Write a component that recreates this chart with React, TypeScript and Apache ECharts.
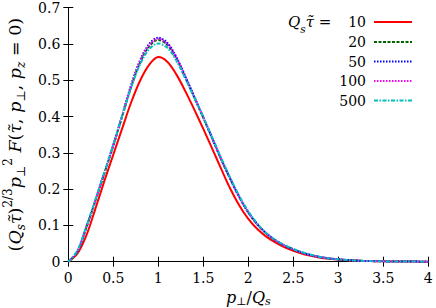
import React, { useEffect, useRef } from "react";
import * as echarts from "echarts";

// p_perp / Q_s grid
const pValues = [
  0, 0.1, 0.2, 0.3, 0.4, 0.5, 0.6, 0.7, 0.8, 0.9, 1.0, 1.1, 1.2, 1.3, 1.4, 1.5, 1.6, 1.7, 1.8, 1.9, 2.0,
  2.1, 2.2, 2.3, 2.4, 2.5, 2.6, 2.7, 2.8, 2.9, 3.0, 3.1, 3.2, 3.3, 3.4, 3.5, 3.6, 3.7, 3.8, 3.9, 4.0,
];

const tau10 = [
  0, 0.022, 0.072, 0.145, 0.222, 0.295, 0.368, 0.44, 0.5, 0.543, 0.564, 0.551, 0.516, 0.47, 0.419, 0.366,
  0.311, 0.255, 0.201, 0.155, 0.118, 0.09, 0.069, 0.053, 0.04, 0.03, 0.022, 0.016, 0.011, 0.008, 0.006,
  0.004, 0.003, 0.002, 0.0015, 0.001, 0.0007, 0.0005, 0.0003, 0.0002, 0.0001,
];
const tau20 = [
  0, 0.027, 0.094, 0.167, 0.243, 0.319, 0.401, 0.483, 0.55, 0.594, 0.611, 0.597, 0.559, 0.507, 0.452, 0.396,
  0.339, 0.281, 0.228, 0.178, 0.136, 0.103, 0.078, 0.059, 0.045, 0.034, 0.025, 0.018, 0.013, 0.009, 0.0065,
  0.0045, 0.003, 0.002, 0.0015, 0.001, 0.0007, 0.0005, 0.0003, 0.0002, 0.0001,
];
const tau50 = [
  0, 0.028, 0.095, 0.168, 0.245, 0.322, 0.405, 0.488, 0.556, 0.6, 0.617, 0.603, 0.564, 0.511, 0.455, 0.398,
  0.34, 0.282, 0.228, 0.178, 0.136, 0.103, 0.078, 0.059, 0.045, 0.034, 0.025, 0.018, 0.013, 0.009, 0.0065,
  0.0045, 0.003, 0.002, 0.0015, 0.001, 0.0007, 0.0005, 0.0003, 0.0002, 0.0001,
];
const tau100 = [
  0, 0.028, 0.095, 0.168, 0.245, 0.321, 0.404, 0.486, 0.554, 0.597, 0.614, 0.6, 0.562, 0.51, 0.454, 0.398,
  0.34, 0.282, 0.228, 0.178, 0.136, 0.103, 0.078, 0.059, 0.045, 0.034, 0.025, 0.018, 0.013, 0.009, 0.0065,
  0.0045, 0.003, 0.002, 0.0015, 0.001, 0.0007, 0.0005, 0.0003, 0.0002, 0.0001,
];
const tau500 = [
  0, 0.03, 0.097, 0.17, 0.246, 0.322, 0.403, 0.481, 0.545, 0.586, 0.601, 0.589, 0.554, 0.505, 0.452, 0.398,
  0.342, 0.285, 0.231, 0.181, 0.139, 0.105, 0.079, 0.06, 0.046, 0.035, 0.026, 0.019, 0.013, 0.009, 0.0065,
  0.0045, 0.003, 0.002, 0.0015, 0.001, 0.0007, 0.0005, 0.0003, 0.0002, 0.0001,
];

const seriesNames = ["10", "20", "50", "100", "500"];
const seriesData = [tau10, tau20, tau50, tau100, tau500];
const seriesColors = ["#ff0000", "#006400", "#0000ff", "#ff00ff", "#00c0c0"];
const seriesDash: (string | number[])[] = ["solid", [3, 1.5], [1.5, 1.5], [1.5, 1.5], [4, 1.5, 1.5, 1.5]];

const xTicks = { min: 0, max: 4, interval: 0.5 };
const yTicks = { min: 0, max: 0.7, interval: 0.1 };

const FONT = "DejaVu Serif";

function makeRich(size: number, sub: number, lh: number) {
  return {
    r: { fontFamily: FONT, fontSize: size, color: "#000", lineHeight: lh },
    i: { fontFamily: FONT, fontSize: size, fontStyle: "italic", color: "#000", lineHeight: lh },
    sb: { fontFamily: FONT, fontSize: sub, fontStyle: "italic", color: "#000", verticalAlign: "bottom", lineHeight: sub },
    sbr: { fontFamily: FONT, fontSize: sub, color: "#000", verticalAlign: "bottom", lineHeight: sub },
    sp: { fontFamily: FONT, fontSize: sub, color: "#000", verticalAlign: "top", lineHeight: sub },
  };
}

export default function App() {
  const ref = useRef<HTMLDivElement>(null);
  useEffect(() => {
    if (!ref.current) return;
    const chart = echarts.init(ref.current, undefined, { renderer: "svg" });
    const gridLeft = 68.3;
    const gridRight = 428.3;
    const legendRows = [22, 42, 61.5, 81, 100.5];

    const graphic: any[] = [
      {
        type: "text",
        x: 288,
        y: legendRows[0],
        style: {
          text: "{i|Q}{sb|s}{i|τ̃}{r| =}",
          rich: makeRich(15, 10.5, 24),
          align: "left",
          verticalAlign: "middle",
        },
      },
    ];
    seriesNames.forEach((n, k) => {
      graphic.push({
        type: "text",
        x: 366,
        y: legendRows[k],
        style: { text: n, fontFamily: FONT, fontSize: 14, fill: "#000", align: "right", verticalAlign: "middle" },
      });
      graphic.push({
        type: "line",
        shape: { x1: 374, y1: legendRows[k], x2: 412, y2: legendRows[k] },
        style: {
          stroke: seriesColors[k],
          lineWidth: 2,
          lineDash: seriesDash[k] === "solid" ? null : seriesDash[k],
        },
      });
    });

    const axisCommon = {
      type: "value" as const,
      axisLine: { show: true, lineStyle: { color: "#000", width: 1 } },
      axisTick: { show: true, inside: true, length: 5, lineStyle: { color: "#000" } },
      splitLine: { show: false },
    };

    chart.setOption({
      animation: false,
      backgroundColor: "#fff",
      textStyle: { fontFamily: FONT },
      grid: {
        left: gridLeft,
        right: 436 - gridRight,
        top: 7.6,
        bottom: 46.3,
        containLabel: false,
        outerBoundsMode: "none",
      },
      xAxis: [
        {
          ...axisCommon,
          ...xTicks,
          position: "bottom",
          axisLabel: { fontFamily: FONT, fontSize: 14, color: "#000", margin: 9 },
          name: "{i|p}{sbr|⊥}{r|/}{i|Q}{sb|s}",
          nameLocation: "middle",
          nameGap: 26,
          nameTextStyle: { rich: makeRich(16, 11, 19) },
        },
        { ...axisCommon, ...xTicks, position: "top", axisLabel: { show: false } },
      ],
      yAxis: [
        {
          ...axisCommon,
          ...yTicks,
          position: "left",
          axisLabel: { fontFamily: FONT, fontSize: 14, color: "#000", margin: 8 },
          name:
            "{r|(}{i|Q}{sb|s}{i|τ̃}{r|)}{sp|2/3}{i|p}{sbr|⊥}{sp|2}{r| }{i|F}{r|(}{i|τ̃}{r|, }{i|p}{sbr|⊥}{r|, }{i|p}{sb|z}{r| = 0)}",
          nameLocation: "middle",
          nameRotate: 90,
          nameGap: 41,
          nameTextStyle: { rich: makeRich(17.5, 12, 25) },
        },
        { ...axisCommon, ...yTicks, position: "right", axisLabel: { show: false } },
      ],
      graphic,
      series: seriesNames.map((n, k) => ({
        name: n,
        type: "line",
        smooth: 0.35,
        showSymbol: false,
        symbol: "none",
        data: pValues.map((p, j) => [p, seriesData[k][j]]),
        lineStyle: { color: seriesColors[k], width: 2, type: seriesDash[k] },
        itemStyle: { color: seriesColors[k] },
      })),
    });
    return () => chart.dispose();
  }, []);
  return (
    <div
      ref={ref}
      style={{ position: "fixed", left: 0, top: 0, width: 436, height: 308, background: "#fff" }}
    />
  );
}
